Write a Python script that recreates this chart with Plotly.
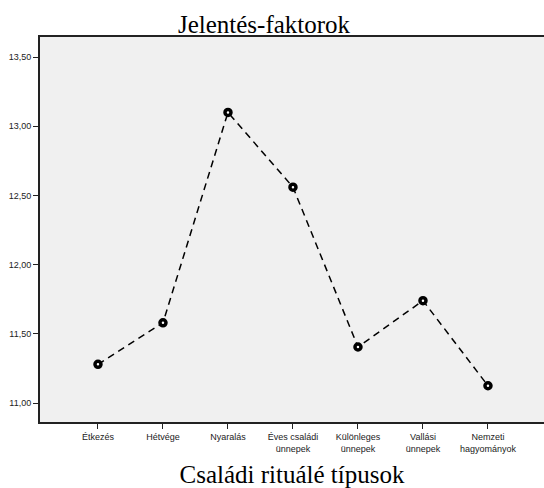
import plotly.graph_objects as go

categories = ["Étkezés", "Hétvége", "Nyaralás", "Éves családi<br>ünnepek",
              "Különleges<br>ünnepek", "Vallási<br>ünnepek", "Nemzeti<br>hagyományok"]
values = [11.28, 11.58, 13.10, 12.56, 11.405, 11.74, 11.125]
y_tickvals = [11.0, 11.5, 12.0, 12.5, 13.0, 13.5]
y_ticktext = ["11,00", "11,50", "12,00", "12,50", "13,00", "13,50"]

x_idx = list(range(len(categories)))

fig = go.Figure()
fig.add_trace(go.Scatter(
    x=x_idx, y=values, mode="lines+markers",
    line=dict(color="black", width=1.5, dash="7px,5px"),
    marker=dict(symbol="circle", size=6, color="white",
                line=dict(color="black", width=3.5)),
    showlegend=False,
))

fig.update_layout(
    width=544, height=488,
    margin=dict(l=40, r=0, t=37, b=66),
    paper_bgcolor="white",
    plot_bgcolor="#f0f0f0",
    title=dict(text="Jelentés-faktorok", x=264/544, xanchor="center",
               y=1 - 24/488, yanchor="middle",
               font=dict(family="Liberation Serif", size=25, color="black")),
    xaxis=dict(
        range=[-0.892, 6.862],
        tickmode="array", tickvals=x_idx, ticktext=categories,
        showgrid=False, zeroline=False,
        showline=True, linecolor="#222", linewidth=2, mirror=True,
        ticks="outside", ticklen=5, tickcolor="#222", tickwidth=1,
        tickfont=dict(family="Liberation Sans", size=9, color="#222"),
        title=dict(text="Családi rituálé típusok", standoff=14,
                   font=dict(family="Liberation Serif", size=25, color="black")),
    ),
    yaxis=dict(
        range=[10.863, 13.645],
        tickmode="array", tickvals=y_tickvals, ticktext=y_ticktext,
        showgrid=False, zeroline=False,
        showline=True, linecolor="#222", linewidth=2,
        ticks="outside", ticklen=5, tickcolor="#222", tickwidth=1,
        tickfont=dict(family="Liberation Sans", size=9, color="#222"),
    ),
)

fig.write_html(
    "out.html",
    config={"displayModeBar": False},
    post_script="document.body.style.margin='0';document.body.style.overflow='hidden';",
)
